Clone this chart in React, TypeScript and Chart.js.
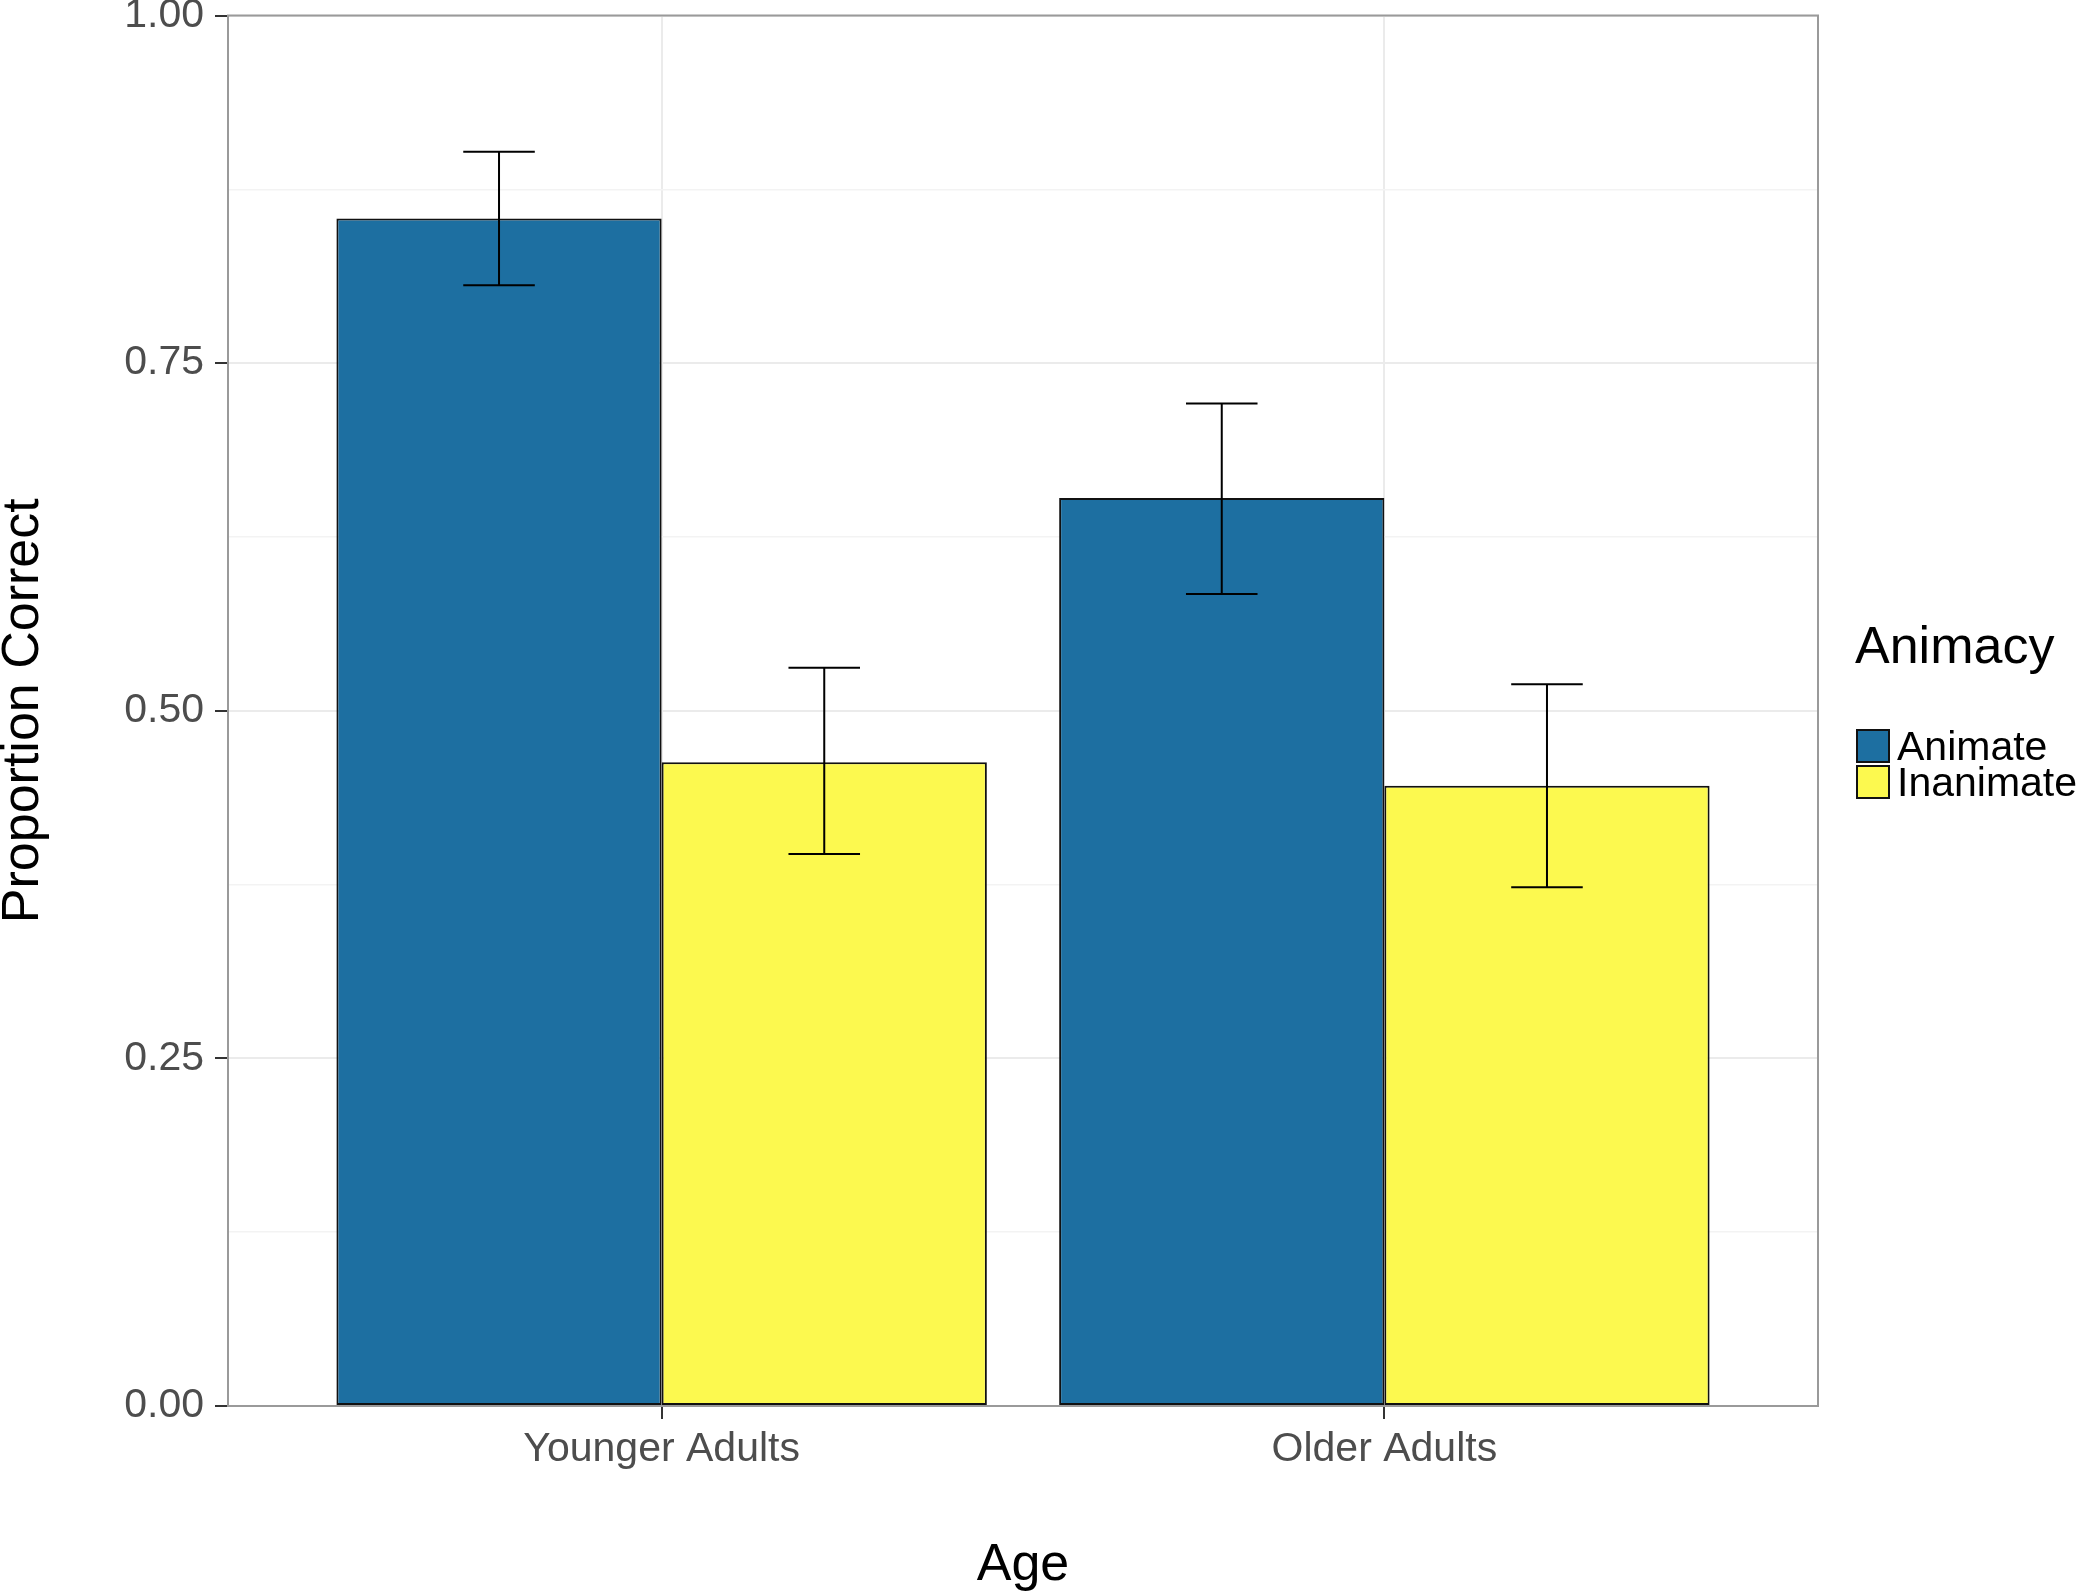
import React, { useEffect, useRef } from "react";
import { Chart, registerables } from "chart.js";

Chart.register(...registerables);

// ---------- data ----------
const categories = ["Younger Adults", "Older Adults"];
const seriesNames = ["Animate", "Inanimate"];
const animateMeans = [0.854, 0.653];
const inanimateMeans = [0.463, 0.446];
const animateLower = [0.806, 0.584];
const animateUpper = [0.902, 0.721];
const inanimateLower = [0.397, 0.373];
const inanimateUpper = [0.531, 0.519];
const yMajorTicks = [0, 0.25, 0.5, 0.75, 1];
const yTickLabels = ["0.00", "0.25", "0.50", "0.75", "1.00"];
const yMinorTicks = [0.125, 0.375, 0.625, 0.875];
const seriesColors = ["#1D6FA1", "#FCF94F"];

const FONT = "'Liberation Sans', Arial, Helvetica, sans-serif";

const near = (a: number, b: number) => Math.abs(a - b) < 1e-6;
const isMajor = (v: number) => yMajorTicks.some((m) => near(m, v));

const panelBorderPlugin = {
  id: "panelBorder",
  beforeDatasetsDraw(chart: any) {
    const { ctx, chartArea } = chart;
    ctx.save();
    ctx.strokeStyle = "#9A9A9A";
    ctx.lineWidth = 2;
    ctx.strokeRect(
      chartArea.left,
      chartArea.top,
      chartArea.right - chartArea.left,
      chartArea.bottom - chartArea.top
    );
    ctx.restore();
  },
};

const errorBarPlugin = {
  id: "errorBars",
  afterDatasetsDraw(chart: any) {
    const { ctx } = chart;
    const yScale = chart.scales.y;
    chart.data.datasets.forEach((ds: any, di: number) => {
      const meta = chart.getDatasetMeta(di);
      meta.data.forEach((bar: any, j: number) => {
        const x = bar.x;
        const half = bar.width * 0.11;
        const yl = yScale.getPixelForValue(ds.errLow[j]);
        const yu = yScale.getPixelForValue(ds.errHigh[j]);
        ctx.save();
        ctx.strokeStyle = "#000000";
        ctx.lineWidth = 2;
        ctx.beginPath();
        ctx.moveTo(x, yu);
        ctx.lineTo(x, yl);
        ctx.moveTo(x - half, yu);
        ctx.lineTo(x + half, yu);
        ctx.moveTo(x - half, yl);
        ctx.lineTo(x + half, yl);
        ctx.stroke();
        ctx.restore();
      });
    });
  },
};

export default function App() {
  const canvasRef = useRef<HTMLCanvasElement | null>(null);

  useEffect(() => {
    document.body.style.margin = "0";
    const canvas = canvasRef.current;
    if (!canvas) return;
    Chart.defaults.font.family = FONT;

    const means = [animateMeans, inanimateMeans];
    const lows = [animateLower, inanimateLower];
    const highs = [animateUpper, inanimateUpper];

    const chart = new Chart(canvas, {
      type: "bar",
      data: {
        datasets: seriesNames.map((name, si) => ({
          label: name,
          data: categories.map((_, ci) => ({ x: ci + 1, y: means[si][ci] })),
          errLow: lows[si],
          errHigh: highs[si],
          backgroundColor: seriesColors[si],
          borderColor: "#111111",
          borderWidth: 2,
          borderSkipped: false,
          categoryPercentage: 0.9,
          barPercentage: 1.0,
        })) as any,
      },
      options: {
        animation: false,
        responsive: true,
        maintainAspectRatio: false,
        layout: { padding: { top: 15.5, right: 261, left: 0, bottom: 0 } },
        plugins: {
          legend: { display: false },
          tooltip: { enabled: false },
        },
        scales: {
          x: {
            type: "linear",
            min: 0.4,
            max: 2.6,
            bounds: "data",
            offset: false,
            afterBuildTicks: (s: any) => {
              s.ticks = categories.map((_, i) => ({ value: i + 1 }));
            },
            afterFit: (s: any) => {
              s.height = 188;
              s.paddingLeft = 0;
              s.paddingRight = 0;
            },
            ticks: {
              callback: (v: any) => categories[Math.round(Number(v)) - 1] ?? "",
              font: { size: 41, family: FONT },
              color: "#4D4D4D",
              padding: 6,
              maxRotation: 0,
              autoSkip: false,
            },
            grid: {
              offset: false,
              color: "#EBEBEB",
              lineWidth: 2,
              tickColor: "#333333",
              tickLength: 13,
              tickWidth: 2,
            },
            border: { display: false },
            title: {
              display: true,
              text: "Age",
              color: "#000000",
              font: { size: 52, family: FONT, lineHeight: 1 },
              padding: { top: 0, bottom: 2 },
            },
          },
          y: {
            type: "linear",
            min: 0,
            max: 1,
            afterBuildTicks: (s: any) => {
              s.ticks = [...yMajorTicks, ...yMinorTicks]
                .sort((a, b) => a - b)
                .map((v) => ({ value: v }));
            },
            afterFit: (s: any) => {
              s.width = 228;
              s.paddingTop = 0;
              s.paddingBottom = 0;
            },
            ticks: {
              callback: (v: any) => {
                const i = yMajorTicks.findIndex((m) => near(m, Number(v)));
                return i >= 0 ? yTickLabels[i] : "";
              },
              font: { size: 41, family: FONT },
              color: "#4D4D4D",
              padding: 11,
              autoSkip: false,
            },
            grid: {
              color: (c: any) => (c.tick && isMajor(c.tick.value) ? "#EBEBEB" : "#F3F3F3"),
              lineWidth: (c: any) => (c.tick && isMajor(c.tick.value) ? 2 : 1.5),
              tickColor: (c: any) =>
                c.tick && isMajor(c.tick.value) ? "#333333" : "rgba(0,0,0,0)",
              tickLength: 13,
              tickWidth: 2,
            },
            border: { display: false },
            title: {
              display: true,
              text: "Proportion Correct",
              color: "#000000",
              font: { size: 52, family: FONT, lineHeight: 0.92 },
              padding: { top: 0, bottom: 0 },
            },
          },
        },
      } as any,
      plugins: [panelBorderPlugin, errorBarPlugin],
    });

    return () => chart.destroy();
  }, []);

  return (
    <div
      style={{
        position: "absolute",
        left: 0,
        top: 0,
        width: 2079,
        height: 1594,
        fontFamily: FONT,
        background: "#FFFFFF",
      }}
    >
      <canvas ref={canvasRef} style={{ display: "block" }} />
      <div
        style={{
          position: "absolute",
          left: 1855,
          top: 619,
          fontSize: 52,
          lineHeight: "52px",
          color: "#000",
          whiteSpace: "nowrap",
        }}
      >
        Animacy
      </div>
      {seriesNames.map((name, i) => (
        <React.Fragment key={name}>
          <div
            style={{
              position: "absolute",
              left: 1856,
              top: 729 + i * 36,
              width: 34,
              height: 34,
              boxSizing: "border-box",
              border: "2px solid #111",
              background: seriesColors[i],
            }}
          />
          <div
            style={{
              position: "absolute",
              left: 1897,
              top: 726 + i * 36,
              fontSize: 41,
              lineHeight: "41px",
              color: "#000",
              whiteSpace: "nowrap",
            }}
          >
            {name}
          </div>
        </React.Fragment>
      ))}
    </div>
  );
}
